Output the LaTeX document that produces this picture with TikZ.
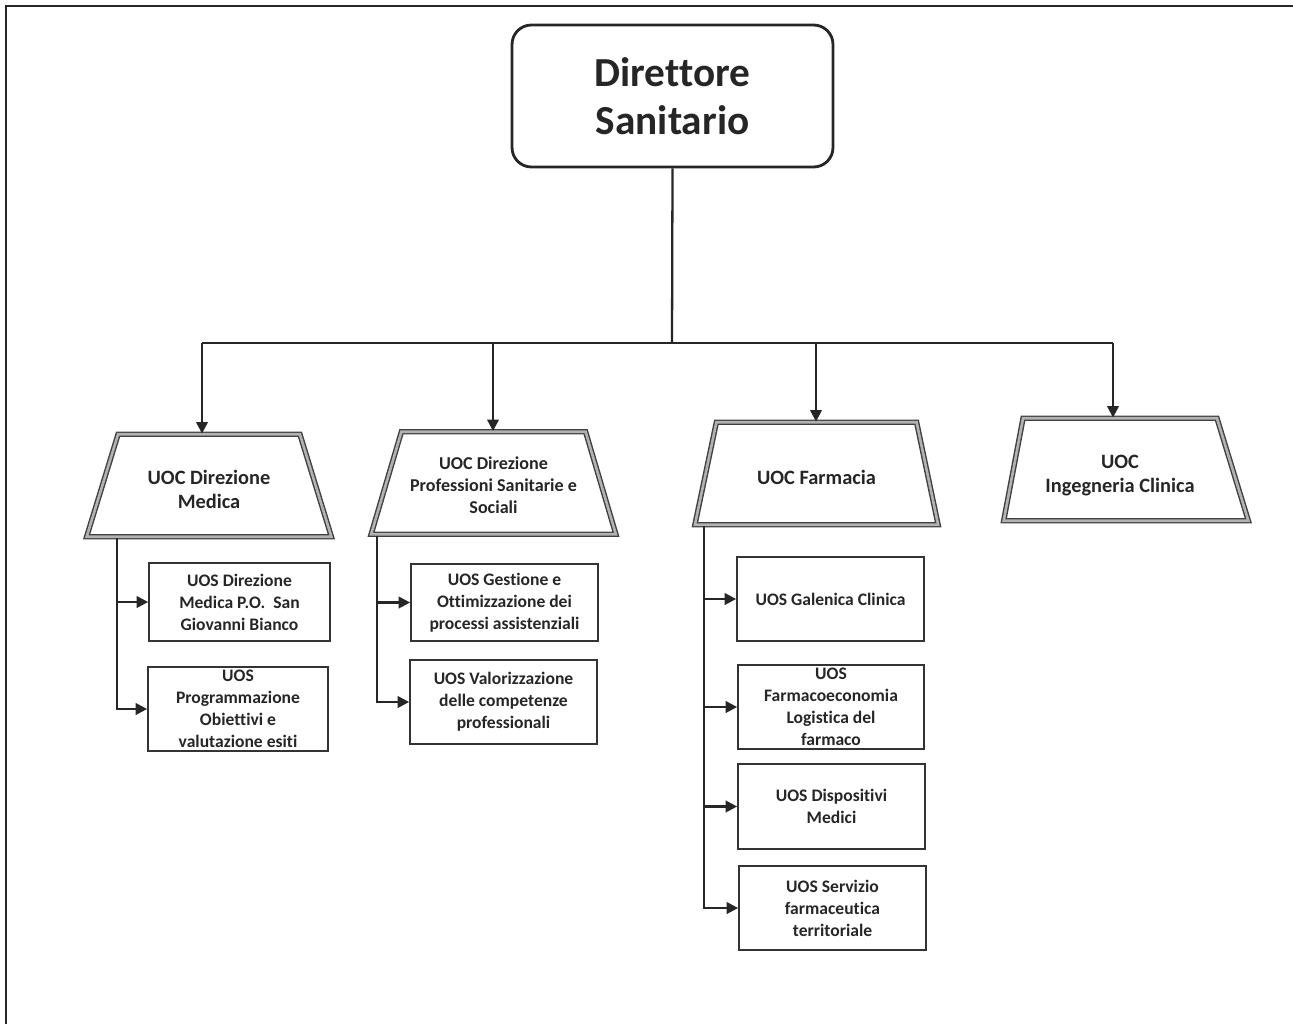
\documentclass[tikz,border=0pt]{standalone}
\usepackage{fontspec}
\setmainfont[Ligatures=NoCommon]{Carlito}
\usetikzlibrary{shapes.geometric,arrows.meta}
\begin{document}
\begin{tikzpicture}[x=0.02cm,y=-0.02cm,
  dir/.style={draw=black!85,line width=1.6pt,rounded corners=11pt,minimum width=6.42cm,minimum height=2.84cm,align=center,font=\fontsize{23.5}{27}\selectfont\bfseries,text=black!85},
  uoc/.style={trapezium,trapezium stretches=true,trapezium left angle=68,trapezium right angle=68,draw=black!75,line width=0.8pt,double=gray!60,double distance=1.5pt,minimum width=4.9cm,minimum height=2.05cm,align=center,font=\fontsize{11.6}{13.5}\selectfont\bfseries,text=black!85},
  uos/.style={draw=black!80,line width=1pt,align=center,font=\fontsize{10}{12.5}\selectfont\bfseries,text=black!85,inner sep=0pt},
  conn/.style={draw=black!85,line width=1.3pt},
  arr/.style={conn,-{Triangle[length=6.5pt,width=6.5pt]}}
]
\useasboundingbox (0,0) rectangle (1293,1024);
\draw[line width=1.2pt,black!85] (6,1024) -- (6,6) -- (1293,6);

\node[dir] (D) at (672.5,96) {Direttore\\Sanitario};

\node[uoc] (T1) at (209,485.5) {\rule{0pt}{12.5pt}UOC Direzione\\Medica};
\node[uoc,font=\fontsize{10.3}{12.5}\selectfont\bfseries] (T2) at (493.5,483) {\rule{0pt}{9.6pt}UOC Direzione\\Professioni Sanitarie e\\Sociali};
\node[uoc] (T3) at (816.5,473.5) {\rule{0pt}{13pt}UOC Farmacia};
\node[uoc,trapezium left angle=76,trapezium right angle=68] (T4) at (1120,469.5) {\rule{0pt}{14.5pt}UOC\\Ingegneria Clinica};

\node[uos,minimum width=3.62cm,minimum height=1.56cm] (A1) at (239.5,602) {UOS Direzione\\Medica P.O.\ \ San\\Giovanni Bianco};
\node[uos,minimum width=3.6cm,minimum height=1.68cm] (A2) at (238,709) {UOS\\Programmazione\\Obiettivi e\\valutazione esiti};
\node[uos,minimum width=3.74cm,minimum height=1.54cm] (B1) at (504.5,602.5) {UOS Gestione e\\Ottimizzazione dei\\processi assistenziali};
\node[uos,minimum width=3.74cm,minimum height=1.68cm] (B2) at (503.5,702) {UOS Valorizzazione\\delle competenze\\professionali};
\node[uos,minimum width=3.74cm,minimum height=1.68cm] (C1) at (830.5,599) {UOS Galenica Clinica};
\node[uos,minimum width=3.72cm,minimum height=1.68cm] (C2) at (831,707) {UOS\\Farmacoeconomia\\Logistica del\\farmaco};
\node[uos,minimum width=3.74cm,minimum height=1.7cm] (C3) at (831.5,806.5) {UOS Dispositivi\\Medici};
\node[uos,minimum width=3.74cm,minimum height=1.68cm] (C4) at (832.5,908) {UOS Servizio\\farmaceutica\\territoriale};

% top level connectors
\coordinate (J) at (672,343);
\coordinate (b1) at (202,343);
\coordinate (b2) at (493,343);
\coordinate (b3) at (816,343);
\coordinate (b4) at (1113,343);
\draw[conn] (D.south) -- (J);
\draw[conn] (b1) -- (b4);
\draw[arr] (b1) -- (b1 |- T1.north);
\draw[arr] (b2) -- (b2 |- T2.north);
\draw[arr] (b3) -- (b3 |- T3.north);
\draw[arr] (b4) -- (b4 |- T4.north);

% branches
\coordinate (v1) at (117,538);
\coordinate (v2) at (377,536);
\coordinate (v3) at (704,526);
\draw[arr] (v1) |- (A2.west);
\draw[arr] (v1 |- A1.west) -- (A1.west);
\draw[arr] (v2) |- (B2.west);
\draw[arr] (v2 |- B1.west) -- (B1.west);
\draw[arr] (v3) |- (C4.west);
\draw[arr] (v3 |- C1.west) -- (C1.west);
\draw[arr] (v3 |- C2.west) -- (C2.west);
\draw[arr] (v3 |- C3.west) -- (C3.west);
\end{tikzpicture}
\end{document}
